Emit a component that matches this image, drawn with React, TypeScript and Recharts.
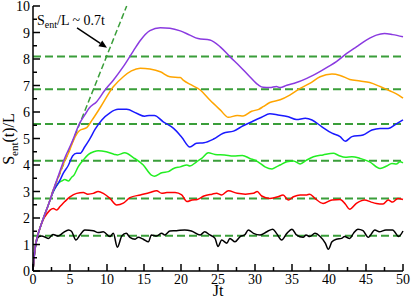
import React from 'react';
import { LineChart, Line, XAxis, YAxis, ReferenceLine, Customized } from 'recharts';

type P = [number, number];

const FONT = '"Liberation Serif", "Times New Roman", serif';

const blackSeries: P[] = [
  [0, 0], [0.2, 0.65], [0.5, 1.15], [0.8, 1.3], [1.2, 1.32], [1.6, 1.28], [2.1, 1.23], [2.7, 1.38], [3.4, 1.32],
  [4.1, 1.45], [4.8, 1.55], [5.2, 1.5], [5.8, 1.17], [6.35, 1.36], [7.0, 1.55], [8.15, 1.52], [8.8, 1.45],
  [9.5, 1.48], [10.4, 1.3], [10.85, 1.42], [11.4, 0.9], [12.0, 1.32], [12.6, 1.42], [13.1, 1.27], [13.8, 1.2],
  [14.2, 1.27], [14.9, 1.2], [15.6, 1.1], [16.0, 1.36], [16.7, 1.32], [17.4, 1.42], [17.8, 1.36], [18.5, 1.51],
  [19.4, 1.52], [20.5, 1.55], [21.4, 1.51], [22.6, 1.36], [23.2, 1.48], [23.9, 1.36], [24.6, 1.23], [25.0, 0.92],
  [25.5, 1.17], [26.2, 1.05], [26.6, 1.23], [27.3, 1.1], [28, 1.3], [28.6, 1.36], [29.1, 1.55], [29.8, 1.42],
  [30.7, 1.36], [31.6, 1.48], [32.4, 1.58], [32.9, 1.42], [33.6, 1.17], [34.3, 1.42], [35.0, 1.58], [35.6, 1.36],
  [36.5, 1.27], [36.9, 1.36], [37.4, 1.3], [38.1, 1.42], [38.8, 1.3], [39.5, 1.05], [39.9, 0.82], [40.4, 1.1],
  [41.0, 1.2], [41.7, 1.23], [42.1, 1.3], [42.8, 1.23], [43.3, 1.42], [43.9, 1.58], [44.6, 1.52], [45.3, 1.27],
  [46.2, 1.55], [46.8, 1.48], [47.7, 1.55], [48.6, 1.55], [49.4, 1.3], [50, 1.51],
];

const redSeries: P[] = [
  [0, 0], [0.2, 0.65], [0.5, 1.2], [0.75, 1.45], [1.4, 1.95], [1.85, 2.15], [2.3, 2.3], [2.75, 2.36], [3.2, 2.3],
  [3.65, 2.43], [4.3, 2.62], [5, 2.8], [5.9, 2.93], [6.8, 2.96], [7.4, 2.9], [8.15, 2.93], [8.8, 3.0], [9.5, 2.93],
  [10.4, 2.74], [11.3, 2.49], [12.2, 2.56], [13.1, 2.77], [14.5, 2.87], [15.8, 2.96], [16.7, 3.03], [17.4, 2.93],
  [18.1, 2.96], [19.2, 2.96], [20.1, 2.87], [20.8, 2.62], [21.5, 2.68], [22.2, 2.7], [23.1, 2.83], [24.2, 2.9],
  [24.8, 2.93], [25.5, 2.87], [26.4, 3.03], [27.6, 2.93], [28.7, 2.9], [29.8, 2.93], [30.3, 3.0], [30.9, 2.83],
  [32.0, 2.74], [33.1, 2.8], [33.8, 2.87], [34.5, 2.68], [35.2, 2.8], [36.1, 2.87], [37.0, 2.87], [37.4, 2.9],
  [38.1, 2.74], [39.2, 2.55], [40.4, 2.68], [41.5, 2.7], [42.2, 2.53], [42.8, 2.33], [43.7, 2.55], [44.8, 2.68],
  [45.7, 2.6], [46.4, 2.55], [47.3, 2.53], [48.0, 2.68], [48.6, 2.6], [49.3, 2.74], [50, 2.7],
];

const greenSeries: P[] = [
  [0, 0], [0.2, 0.65], [0.5, 1.2], [0.75, 1.45], [1.4, 1.99], [2.07, 2.49], [2.75, 3.0], [3.4, 3.3], [3.9, 3.4],
  [4.3, 3.45], [4.8, 3.4], [5.2, 3.53], [5.5, 3.6], [6.1, 3.93], [6.8, 4.19], [7.5, 4.4], [8.2, 4.5], [8.8, 4.54],
  [9.9, 4.5], [11.0, 4.4], [11.4, 4.38], [12.4, 4.46], [13.55, 4.28], [14.9, 4.0], [16.0, 3.62], [16.4, 3.58],
  [17.4, 3.71], [18.3, 3.75], [19.0, 3.87], [19.9, 3.93], [20.8, 4.0], [21.2, 3.96], [22.1, 4.12], [22.8, 4.25],
  [23.7, 4.46], [24.6, 4.4], [25.9, 4.38], [27.1, 4.34], [28.3, 4.36], [29.3, 4.25], [30.4, 4.12], [31.35, 3.93],
  [32.3, 3.85], [32.9, 3.93], [33.4, 4.0], [34.3, 4.12], [35.2, 4.15], [36.1, 4.04], [37.0, 4.19], [37.9, 4.31],
  [39.2, 4.38], [40.6, 4.44], [41.3, 4.36], [42.2, 4.29], [43.1, 4.31], [44.2, 4.25], [45.5, 4.12], [46.9, 3.87],
  [47.8, 3.96], [48.5, 4.06], [49.1, 4.04], [49.6, 4.12], [50, 4.08],
];

const blueSeries: P[] = [
  [0, 0], [0.2, 0.65], [0.5, 1.2], [0.75, 1.45], [1.4, 1.99], [2.07, 2.49], [2.75, 3.0], [3.65, 3.43],
  [4.1, 3.69], [4.8, 4.0], [5.35, 4.34], [5.9, 4.44], [6.35, 4.44], [7.0, 4.69], [7.6, 4.95], [8.4, 5.35],
  [9.3, 5.7], [10.4, 5.97], [11.5, 6.1], [12.66, 6.1], [14.0, 5.95], [15.1, 5.84], [15.7, 5.87], [16.4, 5.87],
  [17.6, 5.63], [19.0, 5.38], [20.1, 5.05], [21.2, 4.68], [22.1, 4.82], [23.1, 4.84], [24.4, 4.98], [25.7, 5.2],
  [27.1, 5.28], [28.4, 5.48], [29.7, 5.65], [30.9, 5.8], [32.0, 5.93], [33.1, 5.89], [34.5, 5.82], [35.6, 5.72],
  [36.8, 5.76], [37.7, 5.7], [39.0, 5.45], [40.4, 5.2], [41.5, 5.07], [42.2, 4.9], [43.1, 5.07], [44.6, 5.13],
  [45.8, 5.32], [46.9, 5.38], [48.0, 5.38], [49.1, 5.55], [50, 5.7],
];

const orangeSeries: P[] = [
  [0, 0], [0.2, 0.65], [0.5, 1.2], [0.75, 1.45], [1.4, 1.99], [2.07, 2.49], [2.75, 3.06], [3.5, 3.6],
  [4.2, 4.1], [4.8, 4.45], [5.5, 4.95], [6.3, 5.3], [7.3, 5.42], [8.0, 5.7], [9.05, 6.15], [10.85, 6.95],
  [12.2, 7.33], [13.3, 7.55], [14.5, 7.65], [15.8, 7.62], [17.2, 7.52], [18.5, 7.33], [19.9, 7.3], [20.3, 7.2],
  [21.4, 7.02], [22.6, 6.83], [23.9, 6.45], [25.3, 6.08], [26.4, 5.8], [27.6, 5.87], [28.4, 5.85], [29.55, 6.03],
  [30.5, 6.1], [31.1, 6.2], [32.0, 6.36], [33.4, 6.46], [34.7, 6.64], [36.1, 6.89], [37.4, 7.08], [38.8, 7.33],
  [40.4, 7.43], [41.5, 7.38], [42.8, 7.23], [44.2, 7.17], [45.5, 7.11], [46.9, 6.96], [48.2, 6.8], [49.4, 6.64],
  [50, 6.52],
];

const purpleSeries: P[] = [
  [0, 0], [0.2, 0.65], [0.5, 1.2], [0.75, 1.45], [1.4, 1.99], [2.07, 2.49], [2.75, 3.06], [3.5, 3.65],
  [4.2, 4.2], [5.2, 4.82], [6.35, 5.6], [7.0, 5.89], [7.6, 6.15], [8.6, 6.39], [9.73, 6.83], [10.85, 7.2],
  [12.2, 7.71], [13.55, 8.3], [14.5, 8.7], [15.8, 9.07], [17.2, 9.18], [18.5, 9.16], [19.9, 9.06], [21.2, 8.9],
  [22.3, 8.77], [23.9, 8.72], [25.3, 8.46], [26.6, 8.09], [28, 7.71], [29.3, 7.33], [30.45, 7.02], [31.1, 6.93],
  [32.0, 6.92], [32.9, 6.96], [33.4, 6.92], [34.3, 7.01], [35.6, 7.11], [37.0, 7.27], [37.9, 7.39], [39.0, 7.56],
  [39.9, 7.71], [41.0, 7.9], [42.4, 8.21], [43.7, 8.46], [45.1, 8.72], [46.4, 8.9], [47.5, 8.96], [48.6, 8.92],
  [50, 8.84],
];

const pageValues = [1.33, 2.74, 4.16, 5.55, 6.86, 8.09];
const slopeLine: P[] = [[2.5, 2.89], [12.66, 10]];
const arrowSeg: P[] = [[5.95, 9.17], [10.0, 8.42]];

const xTicks = [0, 2.5, 5, 7.5, 10, 12.5, 15, 17.5, 20, 22.5, 25, 27.5, 30, 32.5, 35, 37.5, 40, 42.5, 45, 47.5, 50];
const yTicks = [0, 0.5, 1, 1.5, 2, 2.5, 3, 3.5, 4, 4.5, 5, 5.5, 6, 6.5, 7, 7.5, 8, 8.5, 9, 9.5, 10];

const series = [
  { name: 'black', color: '#000000', data: blackSeries },
  { name: 'red', color: '#ff0000', data: redSeries },
  { name: 'green', color: '#22ee22', data: greenSeries },
  { name: 'blue', color: '#1a1aff', data: blueSeries },
  { name: 'orange', color: '#ffa500', data: orangeSeries },
  { name: 'purple', color: '#8a3ae0', data: purpleSeries },
];

const toData = (arr: P[]) => arr.map(([t, v]) => ({ t, v }));
const DASH_GREEN = '#3a9e3a';

const BottomTick = (props: any) => {
  const { x, y, payload } = props;
  const v = payload.value;
  const major = v % 5 === 0;
  return (
    <g>
      <line x1={x} x2={x} y1={y} y2={y - (major ? 7 : 4)} stroke="#000" strokeWidth={1.5} />
      {major && (
        <text x={x} y={y + 13} textAnchor="middle" fontSize={14} fontFamily={FONT} fill="#000">{v}</text>
      )}
    </g>
  );
};

const TopTick = (props: any) => {
  const { x, y, payload } = props;
  const major = payload.value % 5 === 0;
  return <line x1={x} x2={x} y1={y} y2={y + (major ? 7 : 4)} stroke="#000" strokeWidth={1.5} />;
};

const LeftTick = (props: any) => {
  const { x, y, payload } = props;
  const v = payload.value;
  const major = Number.isInteger(v);
  return (
    <g>
      <line x1={x} x2={x + (major ? 7 : 4)} y1={y} y2={y} stroke="#000" strokeWidth={1.5} />
      {major && (
        <text x={x - 3} y={y + 5} textAnchor="end" fontSize={14} fontFamily={FONT} fill="#000">{v}</text>
      )}
    </g>
  );
};

const RightTick = (props: any) => {
  const { x, y, payload } = props;
  const major = Number.isInteger(payload.value);
  return <line x1={x} x2={x - (major ? 7 : 4)} y1={y} y2={y} stroke="#000" strokeWidth={1.5} />;
};

const ArrowShape = (props: any) => {
  const { x1, y1, x2, y2 } = props;
  if ([x1, y1, x2, y2].some((n) => typeof n !== 'number')) return null;
  const ang = Math.atan2(y2 - y1, x2 - x1);
  const L = 8;
  const Wd = 3.5;
  const bx = x2 - L * Math.cos(ang);
  const by = y2 - L * Math.sin(ang);
  const px = -Math.sin(ang) * Wd;
  const py = Math.cos(ang) * Wd;
  return (
    <g>
      <line x1={x1} y1={y1} x2={bx} y2={by} stroke="#000" strokeWidth={1.5} />
      <polygon points={`${x2},${y2} ${bx + px},${by + py} ${bx - px},${by - py}`} fill="#000" />
    </g>
  );
};

const Annotations = () => (
  <g fontFamily={FONT} fill="#000">
    <text x={37} y={25} fontSize={14}>
      S<tspan dy={3} fontSize={10}>ent</tspan>
      <tspan dy={-3}>/L ~ 0.7t</tspan>
    </text>
    <text x={218} y={296} fontSize={16} textAnchor="middle">Jt</text>
    <text transform="rotate(-90)" x={-139} y={13.5} fontSize={16} textAnchor="middle">
      S<tspan dy={4} fontSize={11}>ent</tspan>
      <tspan dy={-4}>(t)/L</tspan>
    </text>
  </g>
);

const axisLineStyle = { stroke: '#000', strokeWidth: 1.5 };

export default function App() {
  return (
    <div style={{ position: 'absolute', left: 0, top: 0, width: 411, height: 300, background: '#fff' }}>
      <LineChart width={411} height={300} margin={{ top: 6, right: 8, bottom: 0, left: 0 }}>
        <XAxis
          dataKey="t"
          type="number"
          domain={[0, 50]}
          ticks={xTicks}
          interval={0}
          height={29}
          tickSize={0}
          tickMargin={0}
          tickLine={false}
          axisLine={axisLineStyle}
          tick={<BottomTick />}
        />
        <XAxis
          xAxisId="top"
          orientation="top"
          dataKey="t"
          type="number"
          domain={[0, 50]}
          ticks={xTicks}
          interval={0}
          height={0}
          tickSize={0}
          tickMargin={0}
          tickLine={false}
          axisLine={axisLineStyle}
          tick={<TopTick />}
        />
        <YAxis
          type="number"
          domain={[0, 10]}
          ticks={yTicks}
          interval={0}
          width={33}
          tickSize={0}
          tickMargin={0}
          tickLine={false}
          axisLine={axisLineStyle}
          tick={<LeftTick />}
        />
        <YAxis
          yAxisId="right"
          orientation="right"
          type="number"
          domain={[0, 10]}
          ticks={yTicks}
          interval={0}
          width={0}
          tickSize={0}
          tickMargin={0}
          tickLine={false}
          axisLine={axisLineStyle}
          tick={<RightTick />}
        />
        {pageValues.map((v) => (
          <ReferenceLine key={v} y={v} stroke={DASH_GREEN} strokeWidth={2} strokeDasharray="8 4" />
        ))}
        <ReferenceLine
          segment={slopeLine.map(([x, y]) => ({ x, y }))}
          stroke={DASH_GREEN}
          strokeWidth={1.5}
          strokeDasharray="6 3"
        />
        {series.map((s) => (
          <Line
            key={s.name}
            data={toData(s.data)}
            dataKey="v"
            type="monotone"
            stroke={s.color}
            strokeWidth={1.5}
            dot={false}
            activeDot={false}
            isAnimationActive={false}
          />
        ))}
        <ReferenceLine segment={arrowSeg.map(([x, y]) => ({ x, y }))} shape={<ArrowShape />} />
        <Customized component={<Annotations />} />
      </LineChart>
    </div>
  );
}
